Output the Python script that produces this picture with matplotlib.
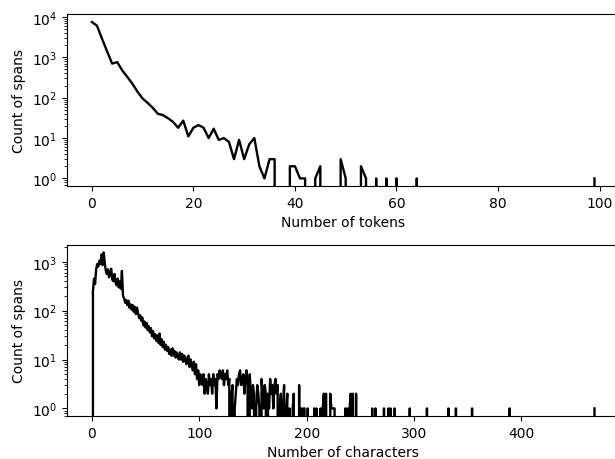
import numpy as np
import matplotlib
matplotlib.use("Agg")
import matplotlib.pyplot as plt

# span length histograms

# tokens: count of spans for 0..99 tokens
token_counts = [7500, 6100, 2900, 1400, 700, 760, 470, 325, 220, 140,
                95, 74, 56, 40, 37, 31, 25, 18, 27, 11,
                18, 21, 18, 10, 17, 9, 10, 8, 3, 9,
                3, 7, 10, 2, 1, 3, 3, 0, 0, 2,
                2, 1, 1, 0, 1, 2, 0, 0, 0, 3,
                1, 0, 0, 2, 1, 0, 1, 0, 1, 0,
                1, 0, 0, 0, 1, 0, 0, 0, 0, 0,
                0, 0, 0, 0, 0, 0, 0, 0, 0, 0,
                0, 0, 0, 0, 0, 0, 0, 0, 0, 0,
                0, 0, 0, 0, 0, 0, 0, 0, 0, 1]

# characters: dense part, count of spans for 0..220 characters
char_counts_head = [0, 250, 450, 350, 700, 900, 800, 1050, 900, 1400,
                    850, 1550, 950, 650, 560, 700, 480, 600, 720, 430,
                    400, 560, 380, 330, 450, 300, 400, 280, 650, 200,
                    180, 145, 165, 130, 160, 115, 135, 105, 130, 95,
                    120, 85, 115, 90, 70, 80, 62, 72, 50, 60,
                    45, 56, 40, 48, 36, 44, 30, 38, 27, 33,
                    24, 31, 22, 34, 20, 26, 18, 23, 16, 20,
                    15, 18, 13, 16, 12, 17, 12, 15, 11, 14,
                    12, 10, 14, 10, 13, 9, 12, 10, 8, 11,
                    12, 7, 10, 8, 6, 9, 5, 8, 4, 6,
                    3, 5, 4, 3, 5, 2, 4, 3, 2, 5,
                    3, 4, 2, 5, 3, 4, 1, 5, 4, 6,
                    5, 4, 6, 3, 5, 4, 6, 3, 4, 0,
                    2, 3, 0, 1, 2, 4, 3, 5, 6, 3,
                    4, 5, 2, 4, 6, 3, 0, 5, 2, 1,
                    3, 2, 0, 1, 3, 2, 1, 0, 4, 2,
                    1, 3, 2, 0, 2, 1, 4, 2, 3, 1,
                    3, 4, 2, 3, 0, 1, 2, 0, 1, 3,
                    0, 1, 2, 0, 1, 0, 0, 1, 2, 0,
                    0, 0, 0, 3, 0, 1, 0, 1, 1, 0,
                    0, 1, 0, 0, 0, 0, 0, 1, 0, 1,
                    0, 0, 0, 1, 0, 1, 2, 0, 2, 0,
                    0]
# characters: sparse tail (length, count), everything else is zero
tail_lengths = [222, 223, 224, 225, 226, 236, 238, 240, 241, 243, 246,
                261, 264, 272, 276, 278, 282, 296, 312, 332, 339, 354, 389, 468]
tail_counts = [2, 1, 1, 1, 1, 1, 1, 1, 2, 2, 2,
               1, 1, 1, 1, 1, 1, 1, 1, 1, 1, 1, 1, 1]

char_counts = np.zeros(max(tail_lengths) + 1)
char_counts[:len(char_counts_head)] = char_counts_head
char_counts[tail_lengths] = tail_counts

fig = plt.figure(figsize=(6.15, 4.6), dpi=100)
ax1 = fig.add_axes([0.1085, 0.593, 0.899, 0.374])
ax2 = fig.add_axes([0.1085, 0.093, 0.899, 0.373])

ax1.plot(np.arange(len(token_counts)), token_counts, color="black", lw=1.7)
ax1.set_yscale("log")
ax1.set_xlabel("Number of tokens")
ax1.set_ylabel("Count of spans")

ax2.plot(np.arange(len(char_counts)), char_counts, color="black", lw=1.7)
ax2.set_yscale("log")
ax2.set_xlabel("Number of characters")
ax2.set_ylabel("Count of spans")

fig.savefig("out.png", dpi=100)
